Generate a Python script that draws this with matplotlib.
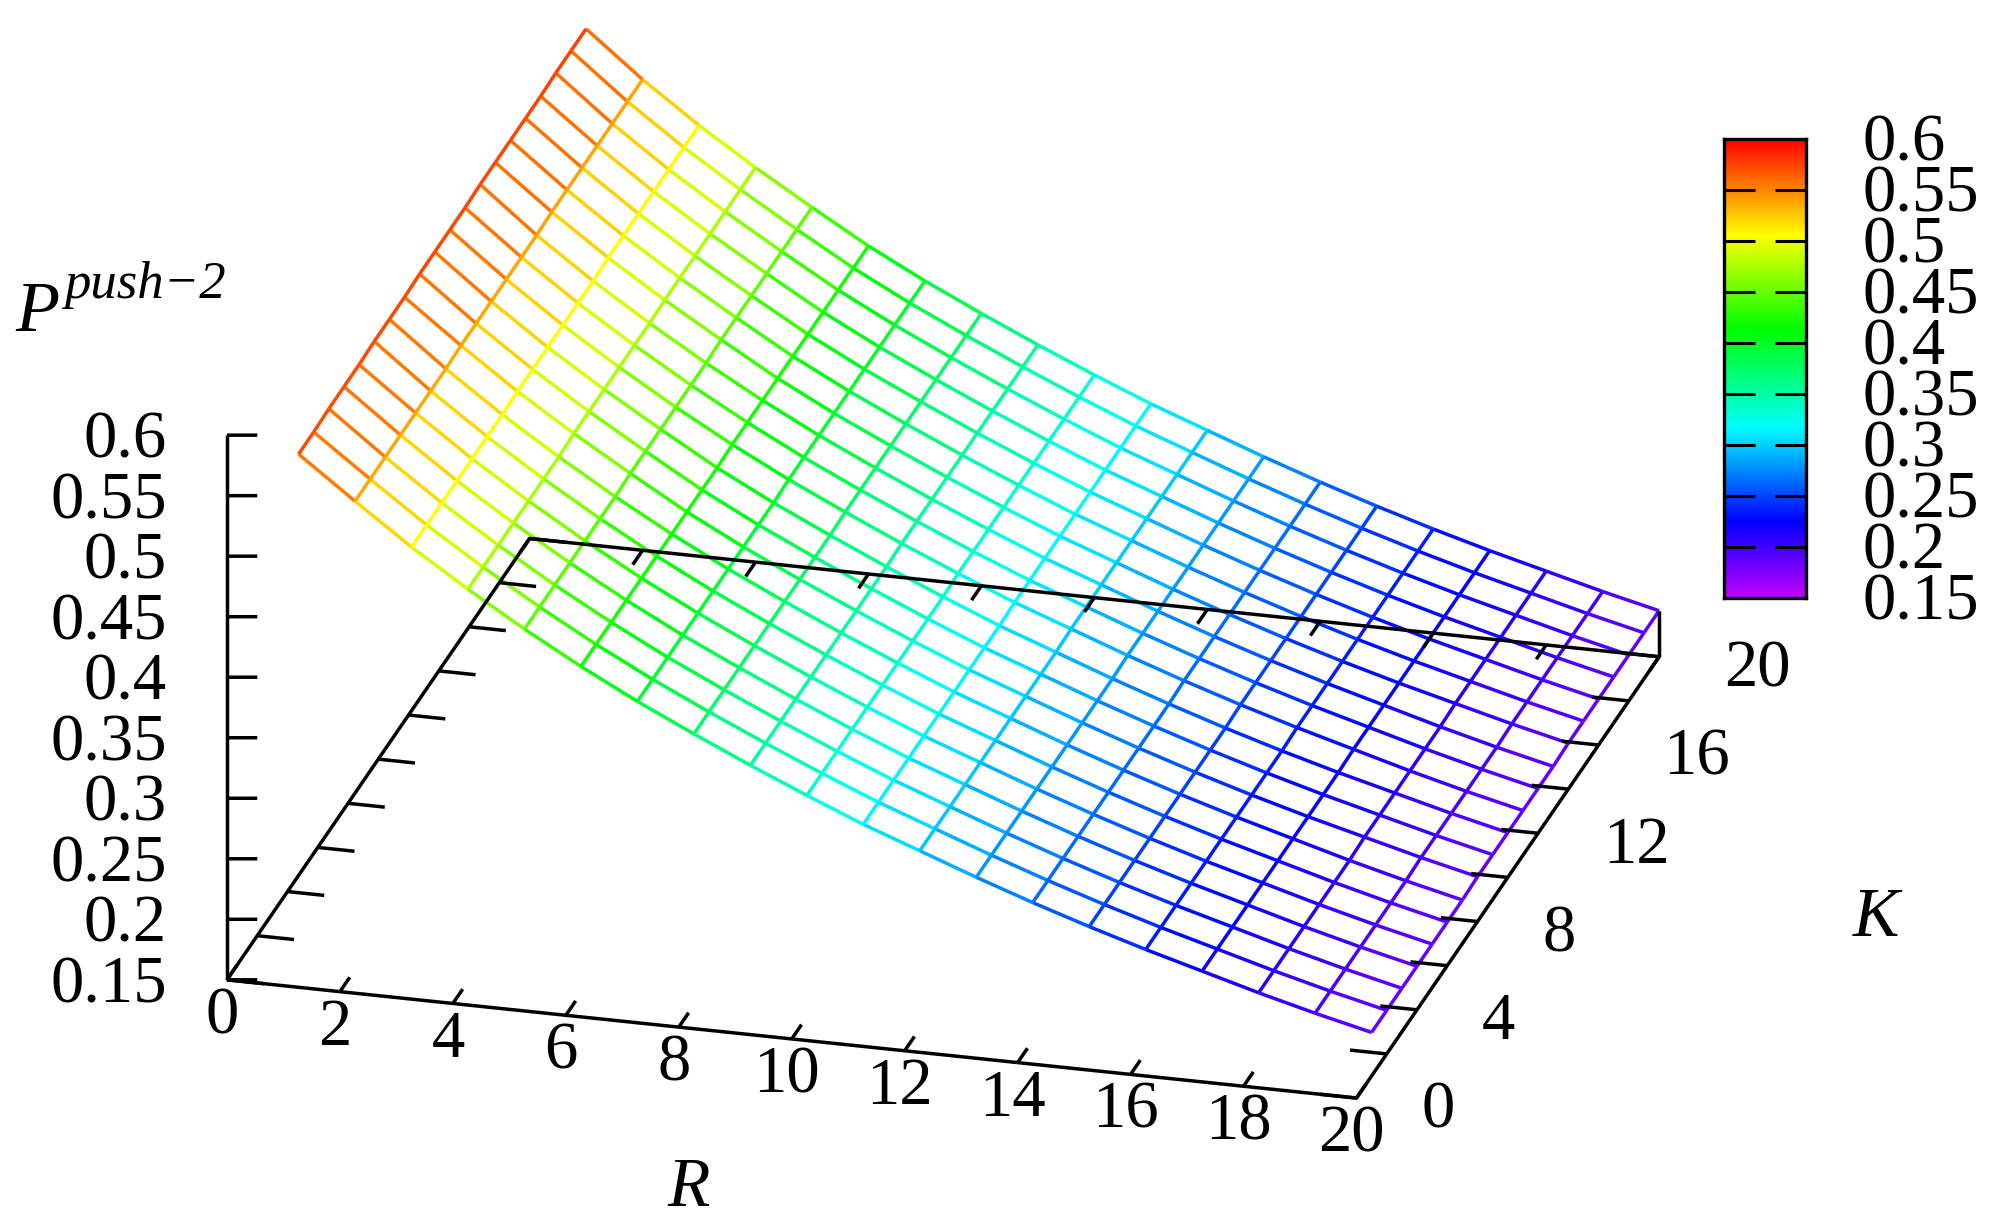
import numpy as np
import matplotlib
matplotlib.use('Agg')
import matplotlib.pyplot as plt

from matplotlib.colors import LinearSegmentedColormap, Normalize
from mpl_toolkits.mplot3d import proj3d
from mpl_toolkits.mplot3d.art3d import Line3DCollection

W, H = 2001, 1223

R_VALUES = np.arange(1, 21)
K_VALUES = np.arange(1, 21)
# one row per K, values along R
P_VALUES = np.array([
    [.571, .537, .504, .474, .446, .420, .396, .374, .353, .333, .314, .297, .280, .264, .249, .235, .222, .209, .197, .186],
    [.571, .537, .504, .474, .446, .420, .396, .374, .353, .333, .314, .297, .280, .264, .249, .235, .222, .209, .197, .186],
    [.572, .537, .504, .474, .446, .420, .396, .374, .353, .333, .314, .297, .280, .264, .249, .235, .222, .209, .197, .186],
    [.572, .537, .504, .474, .446, .420, .396, .374, .353, .333, .314, .297, .280, .264, .249, .235, .222, .209, .197, .186],
    [.572, .537, .504, .474, .446, .420, .396, .374, .353, .333, .314, .297, .280, .264, .249, .235, .222, .209, .197, .186],
    [.573, .537, .504, .474, .446, .420, .396, .374, .353, .333, .314, .297, .280, .264, .249, .235, .222, .209, .197, .186],
    [.573, .537, .504, .474, .446, .420, .396, .374, .353, .333, .314, .297, .280, .264, .249, .235, .222, .209, .197, .186],
    [.573, .538, .505, .475, .447, .420, .396, .374, .353, .333, .314, .297, .280, .264, .249, .235, .222, .210, .198, .187],
    [.574, .538, .505, .475, .447, .420, .396, .374, .353, .333, .314, .297, .280, .264, .249, .235, .222, .210, .198, .187],
    [.574, .538, .505, .475, .447, .420, .396, .374, .353, .333, .314, .297, .280, .264, .249, .235, .222, .210, .198, .187],
    [.574, .538, .505, .475, .447, .421, .397, .375, .354, .334, .315, .298, .281, .265, .250, .236, .223, .210, .198, .187],
    [.574, .538, .505, .475, .447, .421, .397, .375, .354, .334, .315, .298, .281, .265, .250, .236, .223, .210, .198, .187],
    [.575, .538, .505, .475, .447, .421, .397, .375, .354, .334, .315, .298, .281, .265, .250, .236, .223, .210, .198, .187],
    [.575, .539, .506, .476, .448, .421, .397, .375, .354, .334, .315, .298, .281, .265, .250, .236, .223, .211, .199, .188],
    [.575, .539, .506, .476, .448, .421, .397, .375, .354, .334, .315, .298, .281, .265, .250, .236, .223, .211, .199, .188],
    [.575, .539, .506, .476, .448, .421, .397, .375, .354, .334, .315, .298, .281, .265, .250, .236, .223, .211, .199, .188],
    [.575, .539, .506, .476, .448, .421, .397, .375, .354, .334, .315, .298, .281, .265, .250, .236, .223, .211, .199, .188],
    [.576, .539, .506, .476, .448, .421, .397, .375, .354, .334, .315, .298, .281, .265, .250, .236, .223, .211, .199, .188],
    [.576, .539, .506, .476, .448, .421, .397, .375, .354, .334, .315, .298, .281, .265, .250, .236, .223, .211, .199, .188],
    [.576, .539, .506, .476, .448, .421, .397, .375, .354, .334, .315, .298, .281, .265, .250, .236, .223, .211, .199, .188],
])

R_TICKS = list(range(0, 21, 2))
K_TICKS = list(range(0, 21, 2))
K_LABELS = [0, 4, 8, 12, 16, 20]
P_TICKS = [0.15, 0.2, 0.25, 0.3, 0.35, 0.4, 0.45, 0.5, 0.55, 0.6]
P_LABELS = ['0.15', '0.2', '0.25', '0.3', '0.35', '0.4', '0.45', '0.5', '0.55', '0.6']

PALETTE = [(0.0, '#c000ff'), (0.167, '#0000ff'), (0.371, '#00ffff'),
           (0.587, '#00ff00'), (0.79, '#ffff00'), (1.0, '#ff0000')]

plt.rcParams['font.family'] = ['Liberation Serif']

FONT = 48
LW = 2.5

cmap = LinearSegmentedColormap.from_list('pal', PALETTE, N=512)
norm = Normalize(0.15, 0.6)

fig = plt.figure(figsize=(W / 100, H / 100), dpi=100)

# square axes centred on the middle of the plot box
CX, CY, S = 920, 569, 1705
ax = fig.add_axes([(CX - S / 2) / W, 1 - (CY + S / 2) / H, S / W, S / H],
                  projection='3d', proj_type='ortho', computed_zorder=False)
ax.view_init(elev=23, azim=-75)
ax.set_box_aspect((1, 1, 0.506))
ax.set_xlim(0, 20, view_margin=0)
ax.set_ylim(0, 20, view_margin=0)
ax.set_zlim(0.15, 0.6, view_margin=0)
ax.set_axis_off()
ax.patch.set_alpha(0)

# coloured mesh, one colour per segment
rr, kk = np.meshgrid(R_VALUES, K_VALUES)
pts = np.stack([rr, kk, P_VALUES], axis=-1).astype(float)
segs = np.concatenate([
    np.stack([pts[:, :-1], pts[:, 1:]], axis=2).reshape(-1, 2, 3),
    np.stack([pts[:-1, :], pts[1:, :]], axis=2).reshape(-1, 2, 3),
])
colors = cmap(norm(segs[:, :, 2].mean(axis=1)))
ax.add_collection3d(Line3DCollection(segs, colors=colors, linewidths=LW), autolim=False)


def black(xs, ys, zs):
    ax.plot(xs, ys, zs, color='black', lw=LW, solid_capstyle='butt')


P0 = P_TICKS[0]
black([0, 20, 20, 0, 0], [0, 0, 20, 20, 0], [P0] * 5)
black([0, 0], [0, 0], [P0, P_TICKS[-1]])
black([20, 20], [20, 20], [P0, P_VALUES[-1, -1]])

TICK = 0.65
for r in R_TICKS:
    black([r, r], [0, TICK], [P0, P0])
    black([r, r], [20, 20 - TICK], [P0, P0])
for k in K_TICKS:
    black([0, TICK], [k, k], [P0, P0])
    black([20, 20 - TICK], [k, k], [P0, P0])
for p in P_TICKS:
    black([0, 0.5], [0, 0.135], [p, p])

proj = ax.get_proj()


def label(x, y, z, text, dx, dy, ha):
    # place a tick label at a pixel offset from its projected position
    x2, y2, _ = proj3d.proj_transform(x, y, z, proj)
    ax.annotate(text, (x2, y2), xytext=(dx, dy), textcoords='offset pixels', fontsize=FONT,
                ha=ha, va='center', annotation_clip=False)


for r in R_TICKS:
    label(r, 0, P0, str(r), -5, -37, 'center')
for k in K_LABELS:
    label(20, k, P0, str(k), 65, -13, 'left')
for p, lab in zip(P_TICKS, P_LABELS):
    label(0, 0, p, lab, -60, -6, 'right')

fig.text(15 / W, 1 - 331 / H, 'P', fontsize=FONT + 4, style='italic', ha='left', va='baseline')
fig.text(64 / W, 1 - 298 / H, 'push\u22122', fontsize=38, style='italic', ha='left', va='baseline')
fig.text(689 / W, 1 - 1189 / H, 'R', fontsize=FONT + 2, style='italic', ha='center', va='center')
fig.text(1876 / W, 1 - 919 / H, 'K', fontsize=FONT + 2, style='italic', ha='center', va='center')

# colour box
BX0, BX1, BY0, BY1 = 1733 - 9, 1815 - 9, 139, 598
cax = fig.add_axes([BX0 / W, 1 - BY1 / H, (BX1 - BX0) / W, (BY1 - BY0) / H])
cax.imshow(np.linspace(0.15, 0.6, 512)[:, None], aspect='auto', origin='lower',
           extent=[0, 1, 0.15, 0.6], cmap=cmap, norm=norm, interpolation='bilinear')
cax.set_xticks([])
cax.set_yticks(P_TICKS[1:-1])
cax.set_yticklabels([])
cax.tick_params(axis='y', direction='in', left=True, right=True, length=22, width=2.2)
for sp in cax.spines.values():
    sp.set_linewidth(2.4)
for p, lab in zip(P_TICKS, P_LABELS):
    cax.annotate(lab, (1, p), xycoords=('axes fraction', 'data'), xytext=(41, -3.5),
                 textcoords='offset points', fontsize=FONT, ha='left', va='center',
                 annotation_clip=False)

fig.savefig('out.png', dpi=100)
